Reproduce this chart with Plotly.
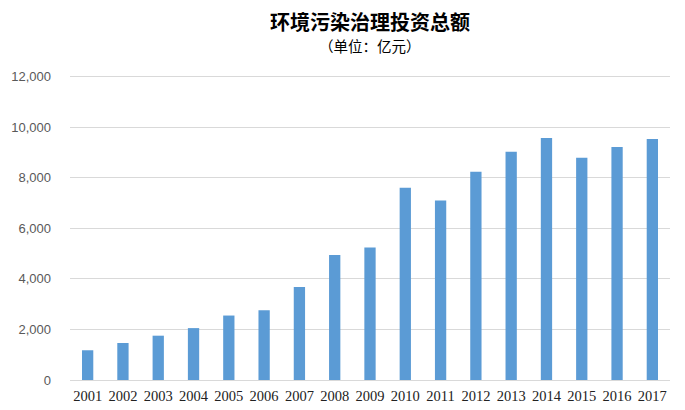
import plotly.graph_objects as go

years = [str(y) for y in range(2001, 2018)]
investment = [1176, 1463, 1752, 2052, 2549, 2758, 3676, 4940, 5241, 7601,
              7099, 8233, 9024, 9565, 8787, 9209, 9526]
y_ticks = [0, 2000, 4000, 6000, 8000, 10000, 12000]
y_tick_labels = ["0", "2,000", "4,000", "6,000", "8,000", "10,000", "12,000"]

title_text = "环境污染治理投资总额"
subtitle_text = "（单位：亿元）"

fig = go.Figure()
fig.add_trace(go.Bar(
    x=years, y=investment,
    marker=dict(color="#5B9BD5", line=dict(width=0)),
    width=0.32,
))

fig.update_layout(
    template="none",
    width=685, height=410,
    margin=dict(l=70, r=15, t=75, b=30, autoexpand=False),
    paper_bgcolor="white", plot_bgcolor="white",
    showlegend=False,
    bargap=0.68,
    annotations=[
        dict(text="<b>" + title_text + "</b>", xref="paper", yref="paper",
             x=0.5, y=1, yshift=54, xanchor="center", yanchor="middle",
             showarrow=False,
             font=dict(family="Noto Sans CJK SC", size=20, color="#000000")),
        dict(text=subtitle_text, xref="paper", yref="paper",
             x=0.5, y=1, yshift=30, xanchor="center", yanchor="middle",
             showarrow=False,
             font=dict(family="Noto Sans CJK SC", size=14.5, color="#000000")),
    ],
)

fig.update_xaxes(
    type="category", automargin=False,
    showgrid=False, showline=True, linecolor="#D9D9D9", linewidth=1,
    ticks="", tickfont=dict(family="Liberation Serif", size=14.5, color="#222222"),
    ticklabelstandoff=3,
)
fig.update_yaxes(
    automargin=False,
    range=[0, 12060], tickvals=y_ticks, ticktext=y_tick_labels,
    showgrid=True, gridcolor="#D9D9D9", gridwidth=1,
    zeroline=False, showline=False, ticks="",
    tickfont=dict(family="Liberation Sans", size=13, color="#595959"),
    ticklabelstandoff=18,
)

fig.write_html("out.html", config={"displayModeBar": False},
               post_script="document.body.style.margin='0px';document.body.style.overflow='hidden';")
